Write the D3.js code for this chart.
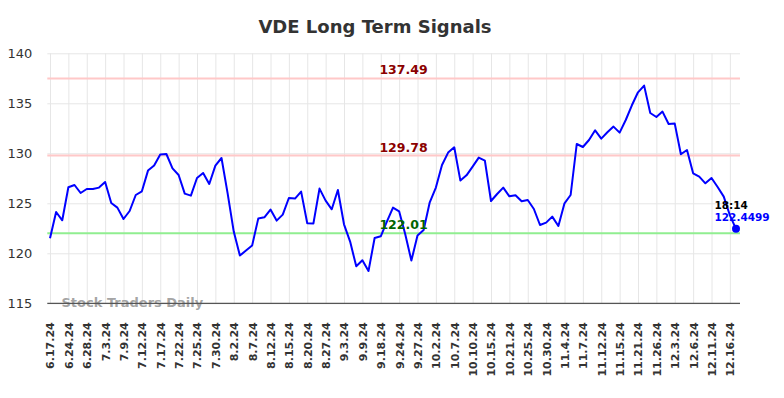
<!DOCTYPE html>
<html>
<head>
<meta charset="utf-8">
<script src="https://cdn.jsdelivr.net/npm/d3@7"></script>
<style>
  html, body { margin: 0; padding: 0; background: #fff; }
  svg { display: block; font-family: "DejaVu Sans", sans-serif; }
</style>
</head>
<body>
<svg id="chart" width="784" height="398"></svg>
<script>
const title = "VDE Long Term Signals";
const tickLabels = ["6.17.24","6.24.24","6.28.24","7.3.24","7.9.24","7.12.24","7.17.24","7.22.24","7.25.24","7.30.24","8.2.24","8.7.24","8.12.24","8.15.24","8.20.24","8.27.24","9.3.24","9.9.24","9.18.24","9.24.24","9.27.24","10.2.24","10.7.24","10.10.24","10.15.24","10.21.24","10.25.24","10.30.24","11.4.24","11.7.24","11.12.24","11.15.24","11.21.24","11.26.24","12.3.24","12.6.24","12.11.24","12.16.24"];
const prices = [121.5,124.13,123.3,126.6,126.83,126.03,126.43,126.43,126.57,127.13,
125.03,124.57,123.43,124.23,125.83,126.2,128.27,128.77,129.87,129.93,
128.5,127.83,125.97,125.77,127.53,128.03,126.93,128.77,129.53,126.0,
122.17,119.77,120.27,120.77,123.47,123.6,124.37,123.27,123.87,125.53,
125.47,126.17,123.0,122.97,126.47,125.27,124.4,126.33,122.9,121.17,
118.7,119.3,118.23,121.53,121.7,123.17,124.57,124.2,121.9,119.27,
121.77,122.33,125.1,126.57,128.83,130.07,130.6,127.27,127.8,128.67,
129.57,129.27,125.23,125.93,126.57,125.7,125.8,125.2,125.33,124.43,
122.83,123.07,123.67,122.73,125.0,125.83,130.93,130.63,131.33,132.3,
131.47,132.1,132.67,132.07,133.33,134.8,136.1,136.77,134.03,133.63,
134.17,132.93,132.97,129.9,130.33,128.0,127.67,127.0,127.53,126.63,
125.67,123.8,122.4499];
const tickEvery = 3;
const yTicks = [115,120,125,130,135,140];
const signalValues = [137.49, 129.78, 122.01];
const signalLabels = ["137.49", "129.78", "122.01"];
const signalKinds = ["resistance", "resistance", "support"];
const lastTime = "18:14";
const lastLabel = "122.4499";
const watermark = "Stock Traders Daily";

const svg = d3.select("#chart");
const plotL = 47.3, plotR = 740, plotT = 53.3, plotB = 303.3;

const x = d3.scaleLinear().domain([0, prices.length - 1]).range([50, 736]);
const y = d3.scaleLinear().domain([115, 140]).range([plotB, plotT]);

// title
svg.append("text").attr("x", 375).attr("y", 32.5).attr("text-anchor", "middle")
  .attr("font-size", 18).attr("font-weight", "bold").attr("fill", "#333").text(title);

// y axis with grid
const tickIdx = tickLabels.map((d, i) => i * tickEvery);
const yAxis = svg.append("g").attr("transform", `translate(${plotL},0)`)
  .call(d3.axisLeft(y).tickValues(yTicks).tickFormat(d3.format("d")).tickSize(-(plotR - plotL)).tickPadding(15));
yAxis.select(".domain").remove();
yAxis.selectAll("line").attr("stroke", "#e6e6e6").attr("stroke-width", 1);
yAxis.selectAll("text").attr("font-size", 13).attr("fill", "#333").attr("font-family", "DejaVu Sans");

// x axis with grid
const xAxis = svg.append("g").attr("transform", `translate(0,${plotB})`)
  .call(d3.axisBottom(x).tickValues(tickIdx).tickFormat((d, i) => tickLabels[i]).tickSize(-(plotB - plotT)));
xAxis.select(".domain").remove();
xAxis.selectAll("line").attr("stroke", "#e6e6e6").attr("stroke-width", 1);
xAxis.selectAll("text")
  .attr("transform", "rotate(-90)")
  .attr("x", -19).attr("y", 0).attr("dy", "0.36em")
  .attr("text-anchor", "end")
  .attr("font-size", 11).attr("font-weight", "bold").attr("fill", "#333").attr("font-family", "DejaVu Sans");

// signal lines
signalValues.forEach((v, i) => {
  const col = signalKinds[i] === "support" ? "#90ee90" : "#ffc8c8";
  svg.append("line").attr("x1", plotL).attr("x2", plotR).attr("y1", y(v)).attr("y2", y(v))
    .attr("stroke", col).attr("stroke-width", 2);
});

// watermark
svg.append("text").attr("x", 61.5).attr("y", 306.8).attr("font-size", 13).attr("font-weight", "bold")
  .attr("fill", "#999").attr("fill-opacity", 0.9).text(watermark);

// bottom axis line
svg.append("line").attr("x1", plotL).attr("x2", plotR).attr("y1", plotB).attr("y2", plotB)
  .attr("stroke", "#555").attr("stroke-width", 1.2);

// price line
svg.append("path").datum(prices)
  .attr("fill", "none").attr("stroke", "#0000ff").attr("stroke-width", 2).attr("stroke-linejoin", "round")
  .attr("d", d3.line().x((d, i) => x(i)).y(d => y(d)));

// signal labels
signalValues.forEach((v, i) => {
  const col = signalKinds[i] === "support" ? "#006400" : "#8b0000";
  svg.append("text").attr("x", 403.5).attr("y", y(v) - 4).attr("text-anchor", "middle")
    .attr("font-size", 12.5).attr("font-weight", "bold").attr("fill", col).text(signalLabels[i]);
});

// last point
const li = prices.length - 1;
svg.append("circle").attr("cx", x(li)).attr("cy", y(prices[li])).attr("r", 4).attr("fill", "#0000ff");
svg.append("text").attr("x", 714.5).attr("y", 208.5).attr("font-size", 10.5).attr("font-weight", "bold")
  .attr("fill", "#000").text(lastTime);
svg.append("text").attr("x", 714.5).attr("y", 221).attr("font-size", 10.5).attr("font-weight", "bold")
  .attr("fill", "#0000ff").text(lastLabel);
</script>
</body>
</html>
